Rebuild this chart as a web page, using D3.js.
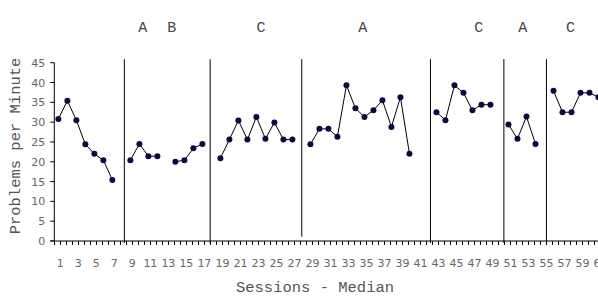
<!DOCTYPE html>
<html>
<head>
<meta charset="utf-8">
<script src="https://cdn.jsdelivr.net/npm/d3@7"></script>
<style>
  body { margin: 0; background: #fff; }
  svg { display: block; }
</style>
</head>
<body>
<div id="chart"></div>
<script>
// Problems per minute by session (null = no session / phase break)
var sessions = d3.range(1, 62);
var problemsPerMinute = [
    30.8, 35.4, 30.5, 24.4, 22.0, 20.4, 15.4, null,
    20.4, 24.5, 21.4, 21.4, null, 20.0, 20.4, 23.4, 24.5, null,
    20.9, 25.6, 30.4, 25.6, 31.3, 25.8, 29.9, 25.6, 25.6, null,
    24.4, 28.3, 28.3, 26.3, 39.3, 33.5, 31.3, 33.0, 35.5, 28.8, 36.3, 22.0, null, null,
    32.5, 30.5, 39.3, 37.4, 33.0, 34.4, 34.4, null,
    29.4, 25.8, 31.4, 24.5, null,
    37.9, 32.5, 32.5, 37.4, 37.4, 36.3
];

// phase change lines (in session units) and how low each one reaches
var phaseChanges = [8.33, 17.86, 28.04, 42.33, 50.49, 55.22];
var phaseLineBottoms = [-0.5, -0.5, 1.1, -0.5, -0.5, -0.5];

// phase names and where they sit (session units)
var phaseNames = ['A', 'B', 'C', 'A', 'C', 'A', 'C'];
var phaseNamePos = [10.38, 13.6, 23.5, 34.8, 47.7, 52.6, 57.9];

var yTicks = [0, 5, 10, 15, 20, 25, 30, 35, 40, 45];
var xTickLabels = d3.range(1, 62, 2);

var width = 598, height = 298;
var mono = '"Courier New", "Liberation Mono", monospace';
var sans = '"DejaVu Sans", Verdana, sans-serif';

var x = d3.scaleLinear().domain([0.55, 61.5]).range([54.3, 603]);
var y = d3.scaleLinear().domain([0, 45]).range([241, 62.7]);

var svg = d3.select('#chart')
    .append('svg')
    .attr('width', width)
    .attr('height', height)
    .style('background', '#fff');

// y axis
var yAxis = svg.append('g');
yAxis.append('line')
    .attr('x1', x(0.55)).attr('x2', x(0.55))
    .attr('y1', y(0)).attr('y2', y(45))
    .attr('stroke', '#000');
yAxis.selectAll('.ytick')
    .data(yTicks)
    .enter().append('line')
    .attr('x1', x(0.55) - 4).attr('x2', x(0.55))
    .attr('y1', function (d) { return y(d); })
    .attr('y2', function (d) { return y(d); })
    .attr('stroke', '#000');
yAxis.selectAll('.ylabel')
    .data(yTicks)
    .enter().append('text')
    .attr('x', x(0.55) - 9)
    .attr('y', function (d) { return y(d) + 4; })
    .attr('text-anchor', 'end')
    .style('font-family', sans)
    .style('font-size', '11px')
    .style('fill', '#666')
    .text(function (d) { return d; });

// x axis
var xAxis = svg.append('g');
xAxis.append('line')
    .attr('x1', x(0.55) - 4).attr('x2', width)
    .attr('y1', y(0)).attr('y2', y(0))
    .attr('stroke', '#000');
xAxis.selectAll('.xtick')
    .data(d3.range(0.55, 61.5, 2 / 3))
    .enter().append('line')
    .attr('x1', function (d) { return Math.round(x(d)) + 0.5; })
    .attr('x2', function (d) { return Math.round(x(d)) + 0.5; })
    .attr('y1', y(0)).attr('y2', y(0) + 4)
    .attr('stroke', '#000');
xAxis.selectAll('.xlabel')
    .data(xTickLabels)
    .enter().append('text')
    .attr('x', function (d) { return x(d) + 2; })
    .attr('y', 267)
    .attr('text-anchor', 'middle')
    .style('font-family', sans)
    .style('font-size', '11px')
    .style('fill', '#666')
    .text(function (d) { return d; });

// axis titles
svg.append('text')
    .attr('x', 315)
    .attr('y', 292)
    .attr('text-anchor', 'middle')
    .style('font-family', mono)
    .style('font-size', '15.5px')
    .style('fill', '#555')
    .text('Sessions - Median');
svg.append('text')
    .attr('transform', 'translate(20,146) rotate(-90)')
    .attr('text-anchor', 'middle')
    .style('font-family', mono)
    .style('font-size', '15.5px')
    .style('fill', '#555')
    .text('Problems per Minute');

// phase change lines
svg.selectAll('.phase')
    .data(phaseChanges)
    .enter().append('line')
    .attr('x1', function (d) { return x(d); })
    .attr('x2', function (d) { return x(d); })
    .attr('y1', y(45.9))
    .attr('y2', function (d, i) { return y(phaseLineBottoms[i]); })
    .attr('stroke', '#000')
    .attr('stroke-width', 1);

// phase names
svg.selectAll('.phasename')
    .data(phaseNames)
    .enter().append('text')
    .attr('x', function (d, i) { return x(phaseNamePos[i]); })
    .attr('y', 32)
    .attr('text-anchor', 'middle')
    .style('font-family', mono)
    .style('font-size', '15px')
    .style('fill', '#444')
    .text(function (d) { return d; });

// data line + markers
var points = sessions.map(function (s, i) { return { s: s, v: problemsPerMinute[i] }; });

var line = d3.line()
    .defined(function (d) { return d.v !== null; })
    .x(function (d) { return x(d.s); })
    .y(function (d) { return y(d.v); });

svg.append('path')
    .datum(points)
    .attr('d', line)
    .attr('fill', 'none')
    .attr('stroke', '#000')
    .attr('stroke-width', 1);

svg.selectAll('.dot')
    .data(points.filter(function (d) { return d.v !== null; }))
    .enter().append('circle')
    .attr('cx', function (d) { return x(d.s); })
    .attr('cy', function (d) { return y(d.v); })
    .attr('r', 3)
    .attr('fill', '#0a0a40');
</script>
</body>
</html>
